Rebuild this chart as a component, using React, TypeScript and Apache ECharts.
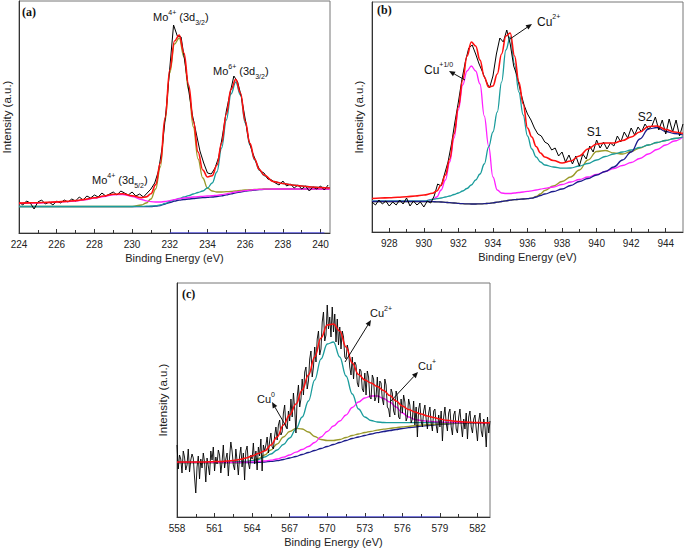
import React, { useEffect, useRef } from "react";
import * as echarts from "echarts";

// ---------------- Panel (a): Mo 3d ----------------
const aDataStart = 224;
const aDataStep = 0.2;
const aData = [
  31, 28, 32, 30, 24, 31, 33, 29, 31, 28, 32, 30, 33, 31, 34, 32, 36, 33, 37, 35,
  38, 36, 40, 37, 39, 41, 38, 42, 40, 38, 41, 37, 39, 36, 40, 44, 50, 62, 86, 122,
  165, 208, 197, 196, 171, 143, 118, 100, 82, 70, 60, 59, 65, 76, 98, 122, 140, 157, 151, 136,
  114, 92, 80, 70, 62, 60, 54, 53, 50, 48, 52, 47, 49, 45, 48, 44, 47, 42, 46, 44,
  47, 43, 48,
];
const aCurveE = [224, 224.5, 225, 225.5, 226, 226.5, 227, 227.5, 228, 228.5, 229, 229.5, 230, 230.5, 230.75, 231, 231.25, 231.5, 231.75, 232, 232.25, 232.5, 232.75, 233, 233.25, 233.5, 233.75, 234, 234.25, 234.5, 234.75, 235, 235.25, 235.5, 235.75, 236, 236.25, 236.5, 236.75, 237, 237.5, 238, 238.5, 239, 239.5, 240, 240.5];
const aFit = [29.9, 30.1, 30.3, 30.6, 31.1, 31.6, 32.4, 33.6, 35.2, 37, 38.8, 39.2, 37.3, 35.4, 36.1, 39.2, 48.4, 70, 115, 163, 192, 198, 180, 148, 112, 81, 63, 56, 57.3, 67.7, 90, 119, 143.6, 153.6, 140, 112, 89.6, 74, 63.5, 58, 51.4, 49.5, 48, 47, 46, 45.5, 45];
const aMo4d32 = [26.5, 26.5, 26.5, 26.5, 26.5, 26.5, 26.5, 26.5, 26.5, 26.5, 26.5, 26.5, 26.5, 28, 30, 34, 44, 66, 112, 160, 189, 195, 176, 143, 106, 74, 55, 45, 42, 41, 41, 41.3, 41.6, 42, 42.5, 43, 43.3, 43.6, 43.8, 44, 44, 44, 44, 44, 44, 44, 44];
const aMo6d32 = [26.5, 26.5, 26.5, 26.5, 26.5, 26.5, 26.5, 26.5, 26.5, 26.5, 26.5, 26.5, 26.5, 26.6, 26.8, 27, 27.4, 28, 29.5, 31.5, 33, 34.5, 36, 37.3, 39, 40.5, 42, 45, 50, 61, 85, 113, 139, 151, 138, 110, 88, 73, 63, 57.5, 51.5, 49.5, 48, 47, 46, 45.5, 45];
const aMo4d52 = [29.5, 29.8, 30, 30.3, 30.8, 31.3, 32, 33.2, 34.8, 36.5, 38.2, 38.5, 36.5, 33.5, 32.2, 31.3, 31, 31, 31.5, 32.3, 33.3, 34.3, 35, 35.5, 36, 36.4, 36.7, 37, 37.3, 37.7, 38.3, 39.2, 40.2, 41, 41.7, 42.4, 42.9, 43.3, 43.6, 43.8, 44, 44, 44, 44, 44, 44, 44];
const aBaseline = [26.3, 26.3, 26.3, 26.3, 26.3, 26.3, 26.3, 26.3, 26.3, 26.3, 26.3, 26.3, 26.3, 26.3, 26.3, 26.3, 26.8, 27.5, 29, 30.5, 31.8, 32.8, 33.5, 34, 34.5, 35, 35.3, 35.6, 36, 36.5, 37.2, 38.2, 39.2, 40.2, 41, 41.8, 42.4, 42.9, 43.3, 43.6, 43.8, 44, 44, 44, 44, 44, 44];
const aZeroE = [232, 240.2];
const aZeroV = [0, 0];
const aTicks = [224, 226, 228, 230, 232, 234, 236, 238, 240];
const aMinorTicks = [225, 227, 229, 231, 233, 235, 237, 239];

// ---------------- Panel (b): Cu 2p3/2 ----------------
const bDataStart = 927;
const bDataStep = 0.2;
const bData = [
  30, 27, 32, 28, 31, 26, 30, 27, 32, 28, 34, 26, 31, 27, 30, 25, 31, 29, 36, 48,
  46, 58, 70, 88, 110, 130, 152, 170, 184, 187, 178, 168, 160, 151, 144, 156, 178, 194, 190, 202,
  188, 166, 156, 140, 127, 118, 112, 104, 98, 96, 90, 88, 82, 84, 76, 80, 70, 77, 68, 76,
  66, 78, 73, 86, 80, 92, 84, 90, 83, 89, 86, 96, 90, 100, 94, 104, 97, 105, 100, 108,
  103, 106, 115, 102, 112, 98, 113, 100, 112, 96, 108,
];
const bCurveE = [927, 927.5, 928, 928.5, 929, 929.5, 930, 930.5, 930.75, 931, 931.25, 931.5, 931.75, 932, 932.25, 932.5, 932.75, 933, 933.25, 933.5, 933.75, 934, 934.25, 934.5, 934.75, 935, 935.25, 935.5, 935.75, 936, 936.25, 936.5, 936.75, 937, 937.5, 938, 938.5, 939, 939.5, 940, 940.5, 941, 941.5, 942, 942.5, 943, 943.5, 944, 944.5, 945];
const bFit = [33.5, 34, 34.3, 34.8, 35.3, 36, 37, 38.7, 41, 47, 57, 73, 98, 125, 152, 176, 190, 186, 172, 155, 145, 146, 158, 178, 196, 199, 176, 150, 128, 104, 95, 85.5, 79, 75, 71.5, 69, 71, 76, 83, 88, 89, 89, 91.5, 95, 100, 105.5, 106, 102.5, 100, 98.5];
const bCu10 = [31, 31, 31, 31, 31, 31, 31, 32.5, 35, 42, 52, 70, 94, 122, 147, 161, 166, 161, 148, 116, 86, 55, 42, 39, 38.5, 38.5, 39, 39.5, 40, 40.7, 41.2, 42, 42.8, 43.7, 45, 47.5, 50, 52.5, 55, 57.5, 60.5, 63.5, 66.5, 69.5, 73.5, 78, 82.5, 87, 91, 95];
const bCu2 = [31, 31, 31, 31, 31, 31, 31, 32.5, 33.3, 34, 35, 36, 37.5, 39, 41, 43.5, 47, 52, 58, 68, 85, 100, 120, 150, 182, 195, 168, 140, 117, 96, 83, 75, 70, 67, 65, 63.8, 64, 66, 68.5, 72, 75.5, 78, 80, 82, 84.5, 87, 89.5, 91.5, 93.5, 95];
const bS1 = [30.3, 30.3, 30.3, 30.3, 30.3, 30.3, 30.3, 30.3, 30.2, 30, 29.7, 29.3, 29, 28.6, 28.3, 28.1, 28, 28, 28.1, 28.3, 28.7, 29.2, 29.8, 30.5, 31.2, 31.8, 32.3, 32.7, 33, 33.3, 33.8, 35.5, 38, 41.5, 46, 50.5, 55, 62, 72, 80.5, 81.5, 79, 78, 80.5, 84, 87, 89.5, 91.5, 93.5, 95];
const bS2 = [30.3, 30.3, 30.3, 30.3, 30.3, 30.3, 30.3, 30.3, 30.2, 30, 29.7, 29.3, 29, 28.6, 28.3, 28.1, 28, 28, 28.1, 28.3, 28.7, 29.2, 29.8, 30.5, 31.2, 31.8, 32.3, 32.7, 33, 33.3, 33.8, 35, 36.5, 38, 40.5, 43, 46.5, 50.5, 53.5, 57, 60.5, 65, 72, 80, 93, 103, 104.5, 100.5, 98.5, 97];
const bTicks = [928, 930, 932, 934, 936, 938, 940, 942, 944];
const bMinorTicks = [929, 931, 933, 935, 937, 939, 941, 943];

// ---------------- Panel (c): Cu LMM ----------------
const cDataStart = 558;
const cDataStep = 0.1;
const cData = [
  72, 48, 62, 58, 44, 66, 60, 47, 52, 68,
  45, 57, 63, 59, 40, 24, 50, 61, 38, 58,
  49, 64, 55, 35, 59, 51, 42, 66, 57, 70,
  46, 60, 53, 67, 62, 44, 55, 72, 49, 58,
  64, 41, 60, 75, 66, 52, 47, 68, 56, 42,
  61, 70, 50, 64, 37, 66, 71, 54, 48, 62,
  58, 74, 53, 66, 47, 70, 61, 78, 46, 72,
  66, 72, 80, 64, 76, 84, 70, 68, 81, 90,
  77, 92, 97, 82, 85, 104, 112, 90, 88, 106,
  96, 118, 100, 124, 108, 84, 120, 132, 110, 118,
  138, 122, 145, 150, 128, 136, 158, 166, 140, 150,
  170, 155, 178, 186, 162, 168, 195, 205, 176, 182,
  212, 188, 200, 180, 210, 185, 203, 175, 198, 172,
  190, 168, 186, 180, 160, 158, 172, 166, 150, 142,
  160, 138, 155, 152, 134, 130, 148, 146, 128, 125,
  144, 122, 146, 140, 120, 118, 142, 138, 116, 120,
  140, 114, 136, 134, 118, 112, 138, 132, 110, 108,
  100, 128, 124, 106, 102, 126, 120, 100, 98, 118,
  104, 122, 115, 96, 100, 118, 112, 94, 98, 116,
  92, 110, 80, 108, 114, 96, 90, 106, 112, 98,
  88, 104, 110, 94, 86, 106, 108, 92, 84, 102,
  90, 106, 76, 100, 110, 94, 86, 104, 108, 90,
  82, 102, 106, 88, 84, 100, 108, 92, 80, 98,
  88, 104, 78, 100, 106, 90, 84, 98, 102, 88,
  76, 96, 104, 86, 80, 98, 90, 70, 100, 84,
  96,
];
const cCurveE = [558, 558.5, 559, 559.5, 560, 560.5, 561, 561.5, 562, 562.5, 563, 563.5, 564, 564.5, 565, 565.5, 566, 566.5, 567, 567.5, 568, 568.5, 569, 569.5, 570, 570.5, 571, 571.5, 572, 572.5, 573, 573.5, 574, 574.5, 575, 575.5, 576, 576.5, 577, 577.5, 578, 578.5, 579, 579.5, 580, 580.5, 581, 581.5, 582, 582.5, 583];
const cFit = [55, 55, 55, 55, 55, 55.2, 55.4, 55.6, 56, 56.5, 57.5, 59, 61, 63.5, 66, 72, 80, 92, 102, 113, 127, 142, 160, 179, 192, 193, 186, 170, 154, 142.5, 137, 134, 130.5, 126.5, 121.5, 116, 111, 107.5, 105, 103, 101, 99.5, 98, 96.8, 96, 95.5, 95, 94.7, 94.5, 94.3, 94.2];
const cBaseline = [54.3, 54.3, 54.3, 54.3, 54.3, 54.3, 54.3, 54.3, 54.3, 54.3, 54.3, 54.3, 54.3, 54.6, 55, 55.6, 56.3, 57.5, 59, 60.5, 62.5, 64.5, 66.5, 68.5, 70.5, 72.5, 74.5, 76.5, 78.5, 80, 81.5, 83, 84.3, 85.5, 86.5, 87.5, 88.5, 89.3, 90, 90.8, 91.5, 92, 92.6, 93, 93.4, 93.7, 94, 94.1, 94.2, 94.3, 94.3];
const cCu0 = [54.5, 54.5, 54.5, 54.5, 54.5, 54.5, 54.5, 54.5, 54.5, 54.5, 54.5, 55.3, 56.5, 58.5, 62, 67, 73, 80, 85.5, 88.7, 88, 85, 80.5, 77.5, 76.5, 76.5, 77.5, 79.5, 81.5, 83, 84.5, 85.7, 86.8, 87.8, 88.6, 89.4, 90.1, 90.7, 91.3, 91.8, 92.3, 92.7, 93.1, 93.4, 93.7, 93.9, 94.1, 94.2, 94.3, 94.3, 94.3];
const cCu2 = [54.8, 54.8, 54.8, 54.8, 54.8, 54.8, 54.8, 54.8, 54.8, 55, 55.3, 55.6, 56.3, 57.5, 60, 63, 67, 72.5, 79, 88, 100, 116, 137, 158, 173, 175, 160, 141, 123, 108, 100, 96.5, 95, 94.5, 94.4, 94.4, 94.4, 94.4, 94.4, 94.4, 94.4, 94.4, 94.4, 94.4, 94.4, 94.4, 94.4, 94.4, 94.4, 94.4, 94.4];
const cCu1 = [54.6, 54.6, 54.6, 54.6, 54.6, 54.6, 54.6, 54.6, 54.6, 54.6, 54.6, 54.9, 55.2, 55.6, 56, 56.8, 58, 59.8, 62, 64.8, 67.5, 70.5, 74.5, 80, 85.5, 91, 96, 102, 109.5, 115, 119, 121, 121, 118.5, 115, 110, 104, 100, 97.5, 96.5, 95.8, 95.3, 95, 94.7, 94.5, 94.4, 94.3, 94.3, 94.3, 94.2, 94.2];
const cZeroE = [567, 579];
const cZeroV = [0, 0];
const cTicks = [558, 561, 564, 567, 570, 573, 576, 579, 582];
const cMinorTicks = [559.5, 562.5, 565.5, 568.5, 571.5, 574.5, 577.5, 580.5];

// ---------------- styling ----------------
const FONT = '"Liberation Sans", Arial, Helvetica, sans-serif';
const SERIF = '"Liberation Serif", "Times New Roman", serif';
const C_RED = "#ff1010";
const C_OLIVE = "#9a9a2a";
const C_TEAL = "#1a9c9c";
const C_MAG = "#ff20ff";
const C_NAVY = "#1c1c8c";
const C_ZERO = "#3d3dff";
const AXIS = "#333";

const pairs = (xs: number[], ys: number[]) => ys.map((y, i) => [xs[i], y]);
const sampled = (start: number, step: number, ys: number[]) =>
  ys.map((y, i) => [Math.round((start + i * step) * 100) / 100, y]);

type Panel = {
  grid: { left: number; top: number; width: number; height: number };
  min: number;
  max: number;
  ymax: number;
  ticks: number[];
  minor: number[];
  nameGapY: number;
};

const panels: Panel[] = [
  { grid: { left: 17, top: 1, width: 313, height: 232 }, min: 224, max: 240.5, ymax: 232, ticks: aTicks, minor: aMinorTicks, nameGapY: 6 },
  { grid: { left: 372, top: 2, width: 311, height: 230 }, min: 927, max: 945, ymax: 230, ticks: bTicks, minor: bMinorTicks, nameGapY: 7 },
  { grid: { left: 177, top: 283, width: 313, height: 234 }, min: 558, max: 583, ymax: 234, ticks: cTicks, minor: cMinorTicks, nameGapY: 8 },
];

function richText(x: number, y: number, text: string, fs: number, supFs: number) {
  return {
    type: "text",
    x,
    y,
    z: 100,
    style: {
      text,
      fill: "#111",
      align: "left",
      verticalAlign: "middle",
      fontFamily: FONT,
      fontSize: fs,
      rich: {
        n: { fontSize: fs, fontFamily: FONT, fill: "#111", lineHeight: fs + 6, verticalAlign: "middle" },
        sup: { fontSize: supFs, fontFamily: FONT, fill: "#111", lineHeight: supFs - 1, verticalAlign: "top" },
        sub: { fontSize: supFs, fontFamily: FONT, fill: "#111", lineHeight: supFs - 1, verticalAlign: "bottom" },
      },
    },
  };
}

function arrow(x1: number, y1: number, x2: number, y2: number) {
  const dx = x2 - x1;
  const dy = y2 - y1;
  const L = Math.hypot(dx, dy);
  const ux = dx / L;
  const uy = dy / L;
  const hl = 6;
  const hw = 2.6;
  const bx = x2 - ux * hl;
  const by = y2 - uy * hl;
  return [
    { type: "line", z: 100, shape: { x1, y1, x2: bx, y2: by }, style: { stroke: "#111", lineWidth: 1 } },
    {
      type: "polygon",
      z: 100,
      shape: { points: [[x2, y2], [bx - uy * hw, by + ux * hw], [bx + uy * hw, by - ux * hw]] },
      style: { fill: "#111" },
    },
  ];
}

function panelLabel(x: number, y: number, t: string) {
  return {
    type: "text",
    x,
    y,
    z: 100,
    style: { text: t, fill: "#111", fontFamily: SERIF, fontWeight: "bold", fontSize: 12, verticalAlign: "middle" },
  };
}

function line(name: string, xi: number, data: number[][], color: string, width: number, smooth: boolean, z = 2) {
  return {
    name,
    type: "line",
    xAxisIndex: xi * 2,
    yAxisIndex: xi,
    data,
    symbol: "none",
    showSymbol: false,
    smooth: smooth ? 0.4 : false,
    smoothMonotone: smooth ? "x" : undefined,
    lineStyle: { color, width },
    z,
    silent: true,
  };
}

export default function App() {
  const ref = useRef<HTMLDivElement>(null);
  useEffect(() => {
    if (!ref.current) return;
    const chart = echarts.init(ref.current, undefined, { renderer: "svg" });

    const grids = panels.map((p) => ({
      ...p.grid,
      show: true,
      borderColor: "#777",
      borderWidth: 1,
      backgroundColor: "transparent",
      containLabel: false,
    }));

    const xAxes: any[] = [];
    panels.forEach((p, i) => {
      xAxes.push({
        gridIndex: i,
        type: "value",
        position: "bottom",
        min: p.min,
        max: p.max,
        axisLine: { show: true, onZero: false, lineStyle: { color: AXIS, width: 1 } },
        axisTick: { show: true, inside: true, length: 4, customValues: p.ticks, lineStyle: { color: AXIS } },
        axisLabel: { customValues: p.ticks, fontSize: 10, color: "#222", margin: 6, fontFamily: FONT },
        splitLine: { show: false },
        name: "Binding Energy (eV)",
        nameLocation: "middle",
        nameGap: 19,
        nameTextStyle: { fontSize: 11, color: "#222", fontFamily: FONT },
      });
      xAxes.push({
        gridIndex: i,
        type: "value",
        position: "bottom",
        min: p.min,
        max: p.max,
        axisLine: { show: false, onZero: false },
        axisTick: { show: true, inside: true, length: 3, customValues: p.minor, lineStyle: { color: AXIS } },
        axisLabel: { show: false },
        splitLine: { show: false },
      });
    });

    const yAxes = panels.map((p, i) => ({
      gridIndex: i,
      type: "value",
      min: 0,
      max: p.ymax,
      axisLine: { show: true, lineStyle: { color: AXIS, width: 1 } },
      axisTick: { show: false },
      axisLabel: { show: false },
      splitLine: { show: false },
      name: "Intensity (a.u.)",
      nameLocation: "middle",
      nameGap: p.nameGapY,
      nameRotate: 90,
      nameTextStyle: { fontSize: 11.5, color: "#222", fontFamily: FONT },
    }));

    const series = [
      // (a)
      line("a-zero", 0, pairs(aZeroE, aZeroV), C_ZERO, 1.2, false),
      line("a-baseline", 0, pairs(aCurveE, aBaseline), C_NAVY, 1.3, true),
      line("a-Mo4+ 3d3/2", 0, pairs(aCurveE, aMo4d32), C_OLIVE, 1.3, true),
      line("a-Mo6+ 3d3/2", 0, pairs(aCurveE, aMo6d32), C_TEAL, 1.3, true),
      line("a-Mo4+ 3d5/2", 0, pairs(aCurveE, aMo4d52), C_MAG, 1.3, true),
      line("a-data", 0, sampled(aDataStart, aDataStep, aData), "#000", 1, false, 3),
      line("a-fit", 0, pairs(aCurveE, aFit), C_RED, 1.6, true, 4),
      // (b)
      line("b-S1", 1, pairs(bCurveE, bS1), C_OLIVE, 1.3, true),
      line("b-Cu+1/0", 1, pairs(bCurveE, bCu10), C_MAG, 1.3, true),
      line("b-Cu2+", 1, pairs(bCurveE, bCu2), C_TEAL, 1.3, true),
      line("b-S2", 1, pairs(bCurveE, bS2), C_NAVY, 1.3, true),
      line("b-data", 1, sampled(bDataStart, bDataStep, bData), "#000", 1, false, 3),
      line("b-fit", 1, pairs(bCurveE, bFit), C_RED, 1.6, true, 4),
      // (c)
      line("c-zero", 2, pairs(cZeroE, cZeroV), C_ZERO, 1.2, false),
      line("c-baseline", 2, pairs(cCurveE, cBaseline), C_NAVY, 1.3, true),
      line("c-Cu0", 2, pairs(cCurveE, cCu0), C_OLIVE, 1.3, true),
      line("c-Cu2+", 2, pairs(cCurveE, cCu2), C_TEAL, 1.3, true),
      line("c-Cu+", 2, pairs(cCurveE, cCu1), C_MAG, 1.3, true),
      line("c-data", 2, sampled(cDataStart, cDataStep, cData), "#000", 0.9, false, 3),
      line("c-fit", 2, pairs(cCurveE, cFit), C_RED, 1.5, true, 4),
    ];

    const graphic: any[] = [
      panelLabel(22, 12, "(a)"),
      richText(153, 17, "{n|Mo}{sup|4+}{n| (3d}{sub|3/2}{n|)}", 11, 7),
      richText(213, 71, "{n|Mo}{sup|6+}{n| (3d}{sub|3/2}{n|)}", 11, 7),
      richText(92, 180, "{n|Mo}{sup|4+}{n| (3d}{sub|5/2}{n|)}", 11, 7),

      panelLabel(377, 10, "(b)"),
      richText(424, 70, "{n|Cu}{sup|+1/0}", 12, 7),
      ...arrow(465, 80, 449, 71),
      richText(537, 22, "{n|Cu}{sup|2+}", 12, 7),
      ...arrow(510, 39, 532, 24),
      { type: "text", x: 594, y: 132, z: 100, style: { text: "S1", fill: "#111", fontFamily: FONT, fontSize: 12, align: "center", verticalAlign: "middle" } },
      { type: "text", x: 645, y: 117, z: 100, style: { text: "S2", fill: "#111", fontFamily: FONT, fontSize: 12, align: "center", verticalAlign: "middle" } },

      panelLabel(182, 294, "(c)"),
      richText(257, 399, "{n|Cu}{sup|0}", 11, 7),
      ...arrow(287, 428, 272, 402),
      richText(370, 313, "{n|Cu}{sup|2+}", 11, 7),
      ...arrow(345, 362, 371, 320),
      richText(418, 366, "{n|Cu}{sup|+}", 11, 7),
      ...arrow(390, 402, 418, 372),
    ];

    chart.setOption({
      animation: false,
      backgroundColor: "#fff",
      textStyle: { fontFamily: FONT },
      grid: grids,
      xAxis: xAxes,
      yAxis: yAxes,
      series,
      graphic,
    });

    return () => chart.dispose();
  }, []);

  return (
    <div
      ref={ref}
      style={{ position: "fixed", left: 0, top: 0, width: 685, height: 550, background: "#fff" }}
    />
  );
}
